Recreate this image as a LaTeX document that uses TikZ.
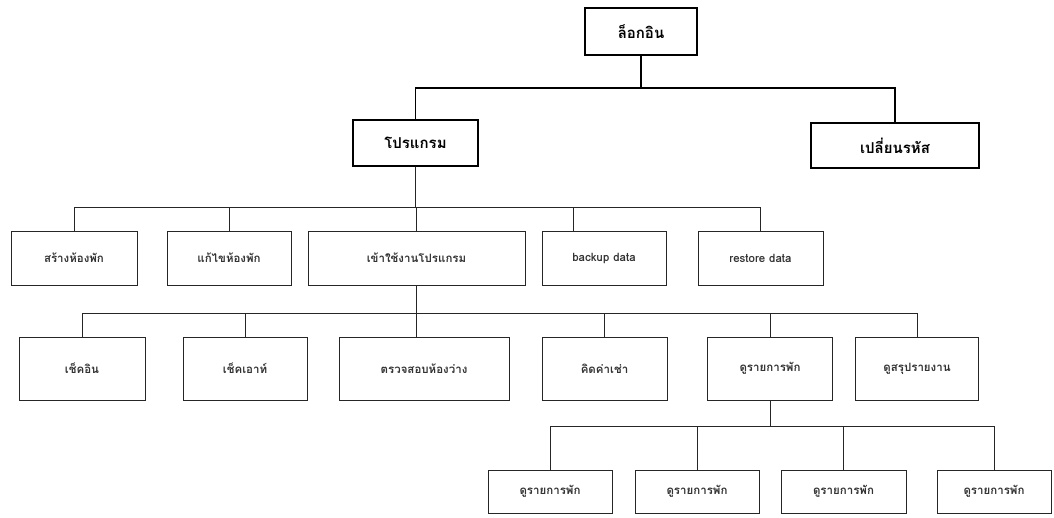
\documentclass[tikz,border=0pt]{standalone}
\usepackage{fontspec}
\newfontfamily\thaifont[Script=Thai]{Loma}
\usepackage{tikz}

\begin{document}
\begin{tikzpicture}[x=1pt,y=-1pt,
  line/.style={draw=black!85,line width=0.9pt},
  main line/.style={draw=black,line width=1.4pt},
  top node/.style={rectangle,draw=black,line width=1.4pt,inner sep=0pt,
    font=\thaifont\fontsize{15}{17}\selectfont\bfseries},
  sub node/.style={rectangle,draw=black!85,line width=1pt,inner sep=0pt,
    font=\thaifont\fontsize{11.5}{13}\selectfont\bfseries,text=black!80}]

  \useasboundingbox (0,0) rectangle (1054,517);

  % named bus levels
  \coordinate (bus1) at (0,88);
  \coordinate (bus2) at (0,207);
  \coordinate (bus3) at (0,313);
  \coordinate (bus4) at (0,426);

  \node[top node,minimum width=112pt,minimum height=47pt] (login) at (641,31.5) {ล็อกอิน};
  \node[top node,minimum width=125pt,minimum height=46pt] (prog) at (415.5,143) {โปรแกรม};
  \node[top node,minimum width=168pt,minimum height=45pt] (chpw) at (895,145.5) {เปลี่ยนรหัส};

  \node[sub node,minimum width=126pt,minimum height=54pt] (mkroom) at (74,258) {สร้างห้องพัก};
  \node[sub node,minimum width=124pt,minimum height=54pt] (edroom) at (229,258) {แก้ไขห้องพัก};
  \node[sub node,minimum width=217pt,minimum height=54pt] (enter) at (416.5,258) {เข้าใช้งานโปรแกรม};
  \node[sub node,minimum width=124pt,minimum height=54pt] (backup) at (604,258) {backup data};
  \node[sub node,minimum width=125pt,minimum height=54pt] (restore) at (760.5,258) {restore data};

  \node[sub node,minimum width=126pt,minimum height=63pt] (checkin) at (82,368.5) {เช็คอิน};
  \node[sub node,minimum width=124pt,minimum height=63pt] (checkout) at (245,368.5) {เช็คเอาท์};
  \node[sub node,minimum width=170pt,minimum height=63pt] (free) at (424,368.5) {ตรวจสอบห้องว่าง};
  \node[sub node,minimum width=125pt,minimum height=63pt] (rent) at (604.5,368.5) {คิดค่าเช่า};
  \node[sub node,minimum width=125pt,minimum height=63pt] (stay) at (770,368.5) {ดูรายการพัก};
  \node[sub node,minimum width=123pt,minimum height=63pt] (report) at (917,368.5) {ดูสรุปรายงาน};

  \node[sub node,minimum width=124pt,minimum height=43pt] (stay1) at (550,491.5) {ดูรายการพัก};
  \node[sub node,minimum width=124pt,minimum height=43pt] (stay2) at (697,491.5) {ดูรายการพัก};
  \node[sub node,minimum width=125pt,minimum height=43pt] (stay3) at (843.5,491.5) {ดูรายการพัก};
  \node[sub node,minimum width=114pt,minimum height=43pt] (stay4) at (994,491.5) {ดูรายการพัก};

  \draw[main line] (login.south) -- (login |- bus1) -| (prog.north);
  \draw[main line] (login.south) -- (login |- bus1) -| (chpw.north);

  \draw[line] (prog.south) -- (prog |- bus2) -| (mkroom.north);
  \draw[line] (prog.south) -- (prog |- bus2) -| (edroom.north);
  \draw[line] (prog.south) -- (prog |- bus2) -| (enter.north);
  \draw[line] (prog.south) -- (prog |- bus2) -| ([xshift=-31pt]backup.north);
  \draw[line] (prog.south) -- (prog |- bus2) -| (restore.north);

  \draw[line] (enter.south) -- (enter |- bus3) -| (checkin.north);
  \draw[line] (enter.south) -- (enter |- bus3) -| (checkout.north);
  \draw[line] (enter.south) -- (enter |- bus3) -| ([xshift=-8pt]free.north);
  \draw[line] (enter.south) -- (enter |- bus3) -| (rent.north);
  \draw[line] (enter.south) -- (enter |- bus3) -| (stay.north);
  \draw[line] (enter.south) -- (enter |- bus3) -| (report.north);

  \draw[line] (stay.south) -- (stay |- bus4) -| (stay1.north);
  \draw[line] (stay.south) -- (stay |- bus4) -| (stay2.north);
  \draw[line] (stay.south) -- (stay |- bus4) -| (stay3.north);
  \draw[line] (stay.south) -- (stay |- bus4) -| (stay4.north);
\end{tikzpicture}
\end{document}
